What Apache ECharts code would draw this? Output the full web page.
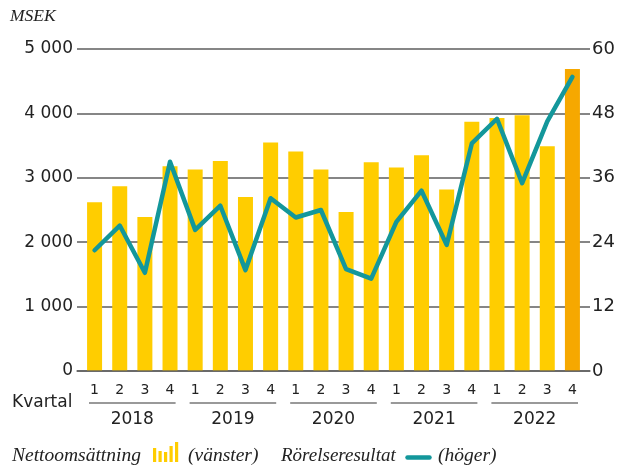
<!DOCTYPE html>
<html>
<head>
<meta charset="utf-8">
<script src="https://cdn.jsdelivr.net/npm/echarts@6/dist/echarts.min.js"></script>
<style>
html,body{margin:0;padding:0;background:#fff;}
#chart{width:620px;height:465px;}
</style>
</head>
<body>
<div id="chart"></div>
<script>
// ---- Data ----
var years = ['2018', '2019', '2020', '2021', '2022'];
var quarters = ['1','2','3','4','1','2','3','4','1','2','3','4','1','2','3','4','1','2','3','4'];
// Nettoomsättning, MSEK (vänster axel)
var netSales = [2620, 2870, 2390, 3180, 3130, 3260, 2700, 3550, 3410, 3130, 2470, 3240, 3160, 3350, 2820, 3870, 3930, 3970, 3490, 4690];
// Rörelseresultat, MSEK (höger axel)
var opProfit = [22.5, 27.1, 18.3, 39.0, 26.3, 30.8, 18.8, 32.2, 28.6, 30.0, 19.0, 17.2, 27.8, 33.6, 23.5, 42.4, 47.0, 35.0, 46.5, 54.8];
var leftTicks = [0, 1000, 2000, 3000, 4000, 5000];
var rightTicks = [0, 12, 24, 36, 48, 60];

var YELLOW = '#FFCD00', ORANGE = '#F6A800', TEAL = '#13979B';
var SANS = 'DejaVu Sans';
var SERIF = 'Liberation Serif';

function fmtThousands(v) {
  return String(v).replace(/\B(?=(\d{3})+(?!\d))/g, ' ');
}

var barData = netSales.map(function (v, i) {
  return i === netSales.length - 1 ? { value: v, itemStyle: { color: ORANGE } } : v;
});

var chart = echarts.init(document.getElementById('chart'), null, { renderer: 'canvas' });

var option = {
  animation: false,
  backgroundColor: '#fff',
  grid: [
    { left: 77, right: 30, top: 49, bottom: 94 },
    { left: 82, right: 35, top: 49, bottom: 94 }
  ],
  xAxis: [
    { gridIndex: 0, type: 'category', data: [''], z: 6,
      axisLine: { show: true, lineStyle: { color: 'rgba(90,90,90,0.85)', width: 1.5 } },
      axisTick: { show: false }, axisLabel: { show: false } },
    { gridIndex: 1, type: 'category', data: quarters,
      axisLine: { show: false }, axisTick: { show: false },
      axisLabel: { margin: 12, fontFamily: SANS, fontSize: 14, color: '#222' } },
    { gridIndex: 1, type: 'category', data: years, position: 'bottom', offset: 32,
      axisLine: { show: false }, axisTick: { show: false },
      axisLabel: { margin: 8, fontFamily: SANS, fontSize: 17, color: '#222' } }
  ],
  yAxis: [
    { gridIndex: 0, type: 'value', min: leftTicks[0], max: leftTicks[leftTicks.length - 1], interval: leftTicks[1] - leftTicks[0],
      position: 'left',
      axisLine: { show: false }, axisTick: { show: false },
      splitLine: { show: true, lineStyle: { color: '#5e5e5e', width: 1.5 } },
      axisLabel: { margin: 4, fontFamily: SANS, fontSize: 17, color: '#222', formatter: fmtThousands } },
    { gridIndex: 0, type: 'value', min: rightTicks[0], max: rightTicks[rightTicks.length - 1], interval: rightTicks[1] - rightTicks[0],
      position: 'right',
      axisLine: { show: false }, axisTick: { show: false }, splitLine: { show: false },
      axisLabel: { margin: 2, fontFamily: SANS, fontSize: 18, color: '#222' } },
    { gridIndex: 1, type: 'value', min: leftTicks[0], max: leftTicks[leftTicks.length - 1], show: false },
    { gridIndex: 1, type: 'value', min: rightTicks[0], max: rightTicks[rightTicks.length - 1], show: false }
  ],
  series: [
    { name: 'Nettoomsättning', type: 'bar', xAxisIndex: 1, yAxisIndex: 2,
      barWidth: 15, itemStyle: { color: YELLOW }, data: barData, z: 2 },
    { name: 'Rörelseresultat', type: 'line', xAxisIndex: 1, yAxisIndex: 3,
      data: opProfit, showSymbol: false, symbol: 'none', z: 4,
      lineStyle: { color: TEAL, width: 4.5, cap: 'round', join: 'round' } },
    { name: 'years', type: 'custom', xAxisIndex: 2, yAxisIndex: 2, clip: false, silent: true,
      data: years.map(function (y, i) { return [i, 0]; }),
      renderItem: function (params, api) {
        var cs = params.coordSys;
        var c = api.coord([api.value(0), 0]);
        var half = api.size([1, 0])[0] / 2;
        var y = cs.y + cs.height + 32;
        return { type: 'line',
          shape: { x1: c[0] - half + 7, y1: y, x2: c[0] + half - 7, y2: y },
          style: { stroke: '#777', lineWidth: 1.5 } };
      } }
  ],
  graphic: [
    { type: 'text', left: 10, top: 7, style: { text: 'MSEK', font: 'italic 17.5px "' + SERIF + '"', fill: '#222' } },
    { type: 'text', left: 12, top: 394, style: { text: 'Kvartal', font: '17px "' + SANS + '"', fill: '#222' } },
    // Legend
    { type: 'text', left: 12, top: 446, style: { text: 'Nettoomsättning', font: 'italic 19.5px "' + SERIF + '"', fill: '#222' } },
    { type: 'group', left: 153, top: 442, children: [
      { type: 'rect', shape: { x: 0, y: 6, width: 3.2, height: 14 }, style: { fill: YELLOW } },
      { type: 'rect', shape: { x: 5.5, y: 9, width: 3.2, height: 11 }, style: { fill: YELLOW } },
      { type: 'rect', shape: { x: 11, y: 10, width: 3.2, height: 10 }, style: { fill: YELLOW } },
      { type: 'rect', shape: { x: 16.5, y: 4, width: 3.2, height: 16 }, style: { fill: YELLOW } },
      { type: 'rect', shape: { x: 22, y: 0, width: 3.2, height: 20 }, style: { fill: YELLOW } }
    ] },
    { type: 'text', left: 188, top: 446, style: { text: '(vänster)', font: 'italic 19.5px "' + SERIF + '"', fill: '#222' } },
    { type: 'text', left: 281, top: 446, style: { text: 'Rörelseresultat', font: 'italic 19px "' + SERIF + '"', fill: '#222' } },
    { type: 'line', left: 405, top: 455, shape: { x1: 0, y1: 2, x2: 22, y2: 2 }, style: { stroke: TEAL, lineWidth: 4.5, lineCap: 'round' } },
    { type: 'text', left: 438, top: 446, style: { text: '(höger)', font: 'italic 19.5px "' + SERIF + '"', fill: '#222' } }
  ]
};
chart.setOption(option);
</script>
</body>
</html>
